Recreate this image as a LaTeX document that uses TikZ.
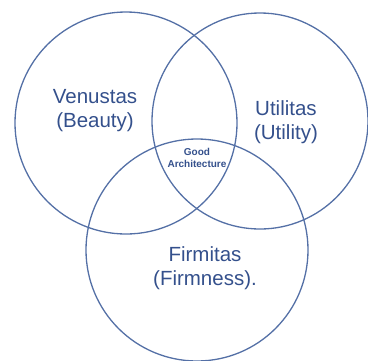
\documentclass[tikz,border=0pt]{standalone}
\usepackage{fontspec}
\setmainfont{Liberation Sans}
\definecolor{ringblue}{HTML}{5470A6}
\definecolor{textblue}{HTML}{34508C}
\tikzset{
    ring/.style={draw=ringblue, line width=1.3pt},
    bigtext/.style={text=textblue, align=center, font=\fontsize{20.5}{24}\selectfont},
    smalltext/.style={text=textblue, align=center, font=\fontsize{10}{12}\selectfont\bfseries},
}

\begin{document}
\begin{tikzpicture}[x=1pt,y=-1pt]
\useasboundingbox (0,0) rectangle (368,360);
\clip (0,0) rectangle (368,360);
% the three circles
\draw[ring] (126,123) circle[radius=111];
\draw[ring] (260,121) circle[radius=108];
\draw[ring] (197,250) circle[radius=111];
% labels
\node[bigtext] (venustas) at (95,111) {Venustas\\(Beauty)};
\node[bigtext] (utilitas) at (286,122) {Utilitas\\(Utility)};
\node[bigtext] (firmitas) at (205,268) {Firmitas\\(Firmness).};
\node[smalltext] (good) at (197,158) {Good\\Architecture};
\end{tikzpicture}
\end{document}
